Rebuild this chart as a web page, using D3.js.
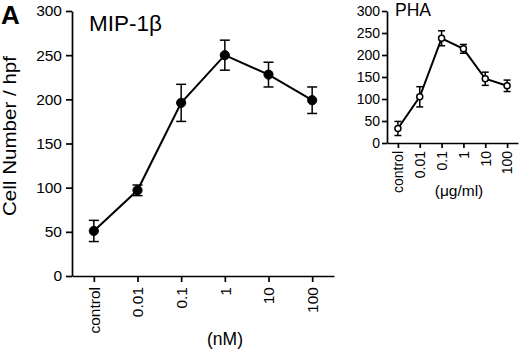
<!DOCTYPE html>
<html>
<head>
<meta charset="utf-8">
<script src="https://cdn.jsdelivr.net/npm/d3@7"></script>
<style>
    body { margin: 0; background: #fff; }
    text { font-family: "Liberation Sans", Arial, Helvetica, sans-serif; fill: #000; }
</style>
</head>
<body>
<div id="chart"></div>
<script>
const categories = ["control", "0.01", "0.1", "1", "10", "100"];
const yTicks = [0, 50, 100, 150, 200, 250, 300];

// MIP-1beta, filled circles
const mipMean = [51, 97, 196, 250, 228, 199];
const mipErr = [12, 6, 21, 17, 14, 15];

// PHA inset, open circles
const phaMean = [33, 105, 238, 214, 146, 130];
const phaErr = [16, 23, 17, 10, 15, 13];

const svg = d3.select("#chart")
    .append("svg")
    .attr("width", 520)
    .attr("height", 350);

function drawPanel(opts) {
    const x = d3.scalePoint()
        .domain(categories)
        .range(opts.xRange)
        .padding(0.5);
    const y = d3.scaleLinear()
        .domain([0, 300])
        .range(opts.yRange);

    const g = svg.append("g");

    /* Y-axis */
    const ya = g.append("g")
        .attr("transform", `translate(${opts.xRange[0]}, 0)`)
        .call(d3.axisLeft(y).tickValues(yTicks).tickSize(opts.tick).tickSizeOuter(0).tickPadding(opts.pad));
    ya.selectAll("text").style("font-size", opts.font + "px").style("font-family", null);

    /* X-axis */
    const xa = g.append("g")
        .attr("transform", `translate(0, ${opts.yRange[0]})`)
        .call(d3.axisBottom(x).tickSize(opts.tick).tickSizeOuter(0));
    xa.selectAll("text")
        .attr("transform", "rotate(-90)")
        .attr("x", -(opts.tick + opts.xPad))
        .attr("y", 0)
        .attr("dy", "0.35em")
        .style("text-anchor", "end")
        .style("font-size", opts.font + "px")
        .style("font-family", null);
    g.selectAll(".domain, .tick line")
        .attr("stroke", "#000")
        .attr("stroke-width", 1.7);

    const pts = categories.map((c, i) => ({cat: c, v: opts.mean[i], e: opts.err[i]}));

    /* error bars */
    const eb = g.selectAll(".err")
        .data(pts)
        .enter()
        .append("g");
    eb.append("line")
        .attr("x1", d => x(d.cat)).attr("x2", d => x(d.cat))
        .attr("y1", d => y(d.v - d.e)).attr("y2", d => y(d.v + d.e));
    eb.append("line")
        .attr("x1", d => x(d.cat) - opts.cap).attr("x2", d => x(d.cat) + opts.cap)
        .attr("y1", d => y(d.v + d.e)).attr("y2", d => y(d.v + d.e));
    eb.append("line")
        .attr("x1", d => x(d.cat) - opts.cap).attr("x2", d => x(d.cat) + opts.cap)
        .attr("y1", d => y(d.v - d.e)).attr("y2", d => y(d.v - d.e));
    eb.selectAll("line").attr("stroke", "#000").attr("stroke-width", 1.5);

    /* line */
    g.append("path")
        .datum(pts)
        .attr("fill", "none")
        .attr("stroke", "#000")
        .attr("stroke-width", 2)
        .attr("d", d3.line().x(d => x(d.cat)).y(d => y(d.v)));

    /* points */
    g.selectAll(".pt")
        .data(pts)
        .enter()
        .append("circle")
        .attr("cx", d => x(d.cat))
        .attr("cy", d => y(d.v))
        .attr("r", opts.r)
        .attr("fill", opts.open ? "#fff" : "#000")
        .attr("stroke", "#000")
        .attr("stroke-width", opts.open ? 1.5 : 1);
}

drawPanel({
    xRange: [72, 334], yRange: [276, 11],
    tick: 6, pad: 4, xPad: 5, font: 15.5, cap: 5, r: 4.6,
    mean: mipMean, err: mipErr, open: false
});

drawPanel({
    xRange: [387, 518], yRange: [143, 11],
    tick: 5, pad: 2, xPad: 3, font: 14, cap: 3.5, r: 3,
    mean: phaMean, err: phaErr, open: true
});

/* labels */
svg.append("text")
    .attr("x", 1).attr("y", 24)
    .style("font-size", "26px").style("font-weight", "bold")
    .text("A");
svg.append("text")
    .attr("x", 89).attr("y", 31)
    .style("font-size", "22.5px")
    .text("MIP-1β");
svg.append("text")
    .attr("x", 395).attr("y", 16)
    .style("font-size", "17.5px")
    .text("PHA");
svg.append("text")
    .attr("transform", "rotate(-90)")
    .attr("x", -136).attr("y", 16)
    .attr("text-anchor", "middle")
    .attr("textLength", 160)
    .attr("lengthAdjust", "spacingAndGlyphs")
    .style("font-size", "18px")
    .text("Cell Number / hpf");
svg.append("text")
    .attr("x", 225).attr("y", 345)
    .attr("text-anchor", "middle")
    .style("font-size", "17.5px")
    .text("(nM)");
svg.append("text")
    .attr("x", 459).attr("y", 196)
    .attr("text-anchor", "middle")
    .style("font-size", "15.5px")
    .text("(μg/ml)");
</script>
</body>
</html>
